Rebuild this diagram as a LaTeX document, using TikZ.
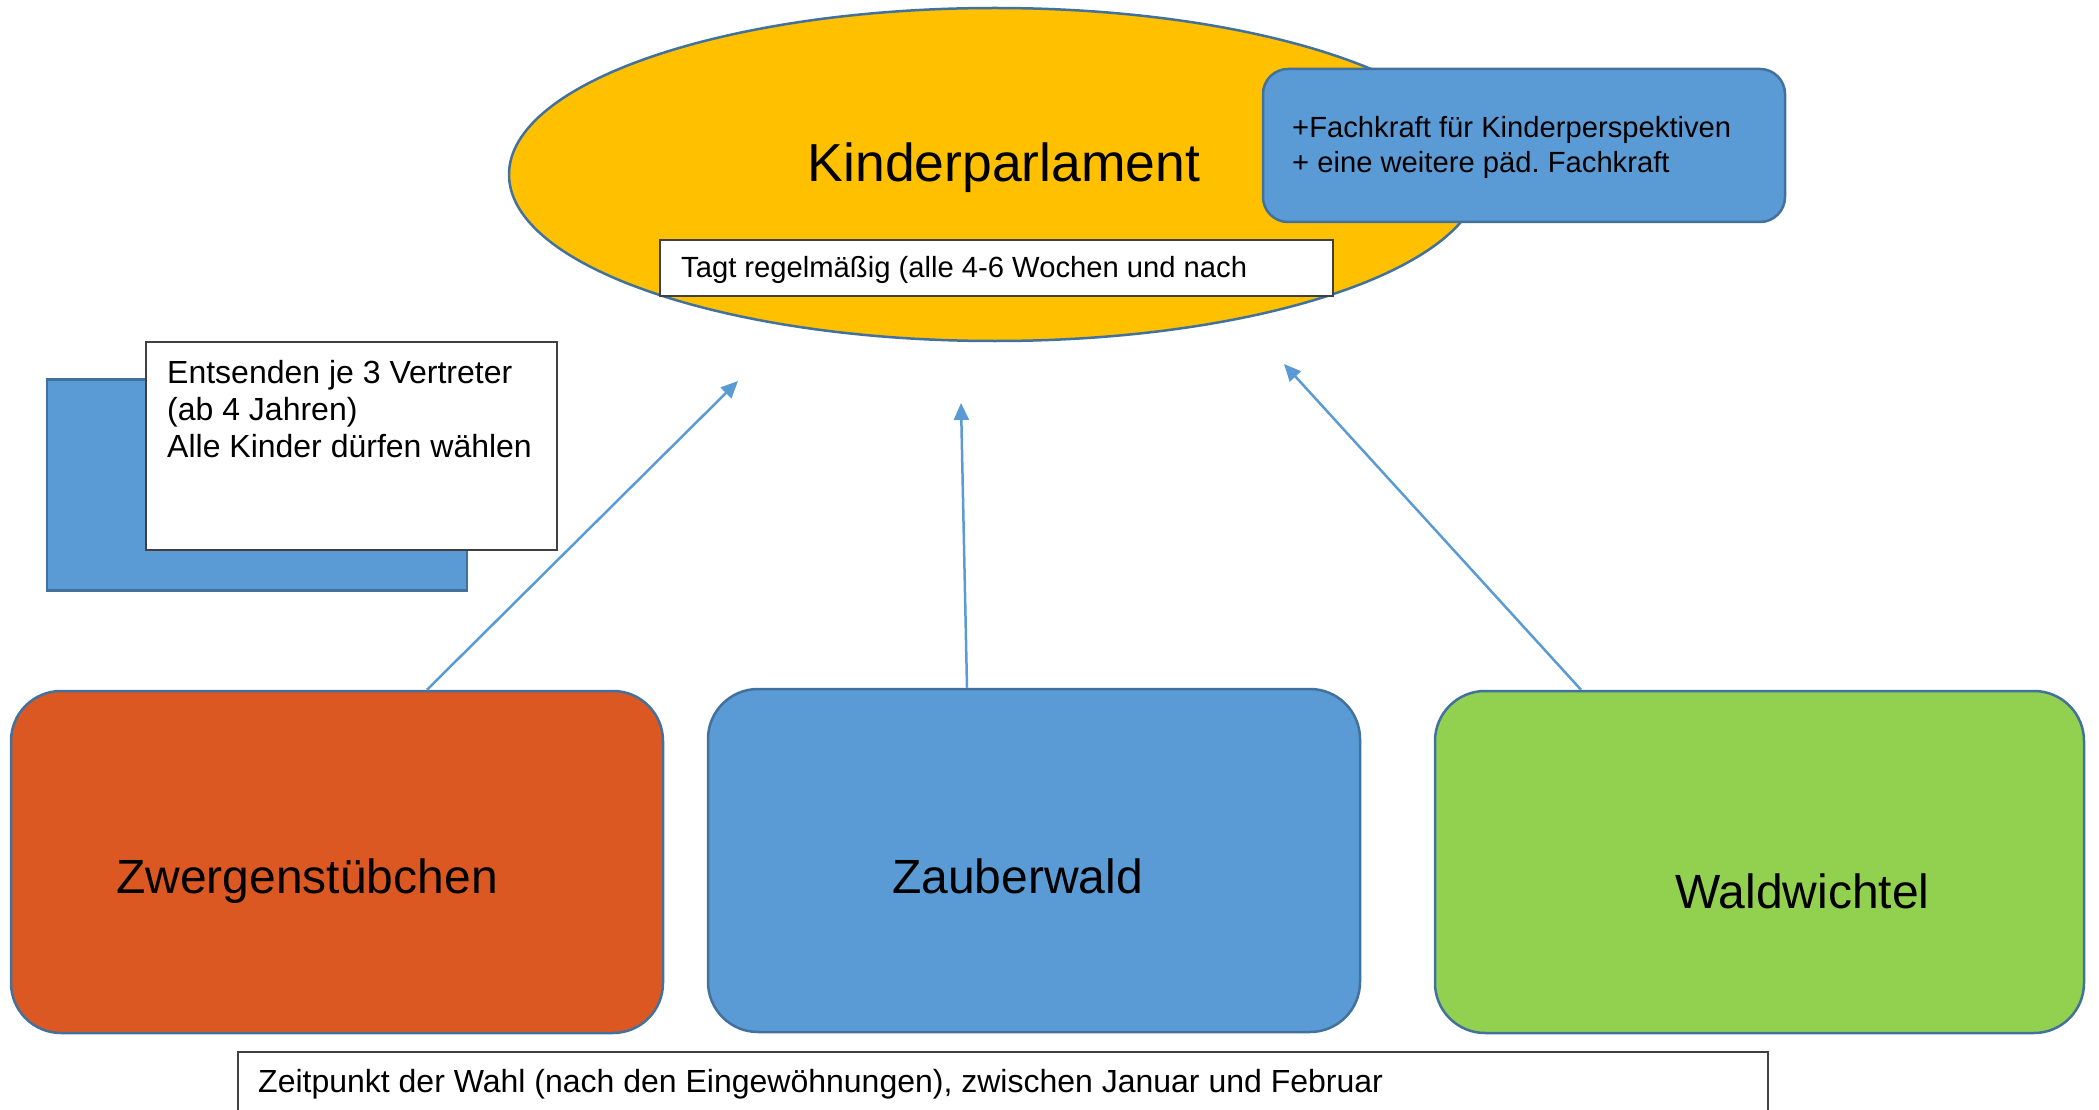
\documentclass[tikz,border=0pt]{standalone}
\usepackage{fontspec}
\setmainfont{Liberation Sans}
\usetikzlibrary{arrows.meta,shapes.geometric}
\definecolor{yel}{HTML}{FFC000}
\definecolor{blu}{HTML}{5B9BD5}
\definecolor{org}{HTML}{DC5823}
\definecolor{grn}{HTML}{92D050}
\definecolor{edgec}{HTML}{41719C}
\definecolor{gry}{HTML}{404040}
\frenchspacing
\begin{document}
\begin{tikzpicture}[x=1pt,y=-1pt,
  groupbox/.style={draw=edgec, line width=2.5pt, rounded corners=50pt, inner sep=0pt, minimum height=342pt},
  notebox/.style={draw=gry, fill=white, line width=2pt, inner sep=0pt},
  conn/.style={draw=blu, line width=2.5pt, -{Triangle[length=17pt,width=15pt]}},
  bigtxt/.style={anchor=base west, inner sep=0pt, font=\fontsize{48}{56}\selectfont},
  smalltxt/.style={inner sep=0pt, font=\fontsize{29.2}{35}\selectfont}
]
\useasboundingbox (0,0) rectangle (2099,1110);
\clip (0,0) rectangle (2099,1110);

% Kinderparlament ellipse
\node[ellipse, draw=edgec, fill=yel, line width=2.5pt, minimum width=972pt, minimum height=333pt, inner sep=0pt] (kp) at (995,174.5) {};
\node[anchor=base, inner sep=0pt, font=\fontsize{53.5}{60}\selectfont] (kpt) at (1004,182) {Kinderparlament};
\node[notebox, minimum width=673pt, minimum height=56pt] (tagt) at (996.5,268) {};
\node[smalltxt, anchor=base west] (tagtt) at (681,277) {Tagt regelmäßig (alle 4-6 Wochen und nach};

% Fachkraft box
\node[draw=edgec, fill=blu, line width=2.5pt, rounded corners=25pt, minimum width=522pt, minimum height=153pt, inner sep=0pt] (fach) at (1524,145.5) {};
\node[smalltxt, anchor=north west, align=left] (facht) at (1292,116) {+Fachkraft für Kinderperspektiven\\+ eine weitere päd. Fachkraft};

% left note
\node[draw=edgec, fill=blu, line width=2.5pt, minimum width=420pt, minimum height=211pt, inner sep=0pt] (back) at (257,485) {};
\node[notebox, minimum width=411pt, minimum height=208pt] (ent) at (351.5,446) {};
\node[anchor=north west, align=left, inner sep=0pt, font=\fontsize{32}{37}\selectfont] (entt) at (167,360) {Entsenden je 3 Vertreter\\(ab 4 Jahren)\\Alle Kinder dürfen wählen};

% group boxes
\node[groupbox, fill=org, minimum width=652pt] (zw) at (337,862) {};
\node[groupbox, fill=blu, minimum width=652pt, minimum height=343pt] (za) at (1034,860.5) {};
\node[groupbox, fill=grn, minimum width=649pt] (wa) at (1759.5,862) {};
\node[bigtxt] (zwt) at (116,893) {Zwergenstübchen};
\node[bigtxt] (zat) at (892,893) {Zauberwald};
\node[bigtxt] (wat) at (1675,908) {Waldwichtel};

% bottom note
\node[notebox, minimum width=1530pt, minimum height=80pt] (zeit) at (1003,1092) {};
\node[anchor=base west, inner sep=0pt, font=\fontsize{32}{37}\selectfont] (zeitt) at (258,1092) {Zeitpunkt der Wahl (nach den Eingewöhnungen), zwischen Januar und Februar};

% arrows
\coordinate (t1) at (738,381);
\coordinate (t2) at (961,403);
\coordinate (t3) at (1284,364);
\draw[conn] ([xshift=90pt]zw.north) -- (t1);
\draw[conn] ([xshift=-67pt]za.north) -- (t2);
\draw[conn] ([xshift=-178.5pt]wa.north) -- (t3);
\end{tikzpicture}
\end{document}
